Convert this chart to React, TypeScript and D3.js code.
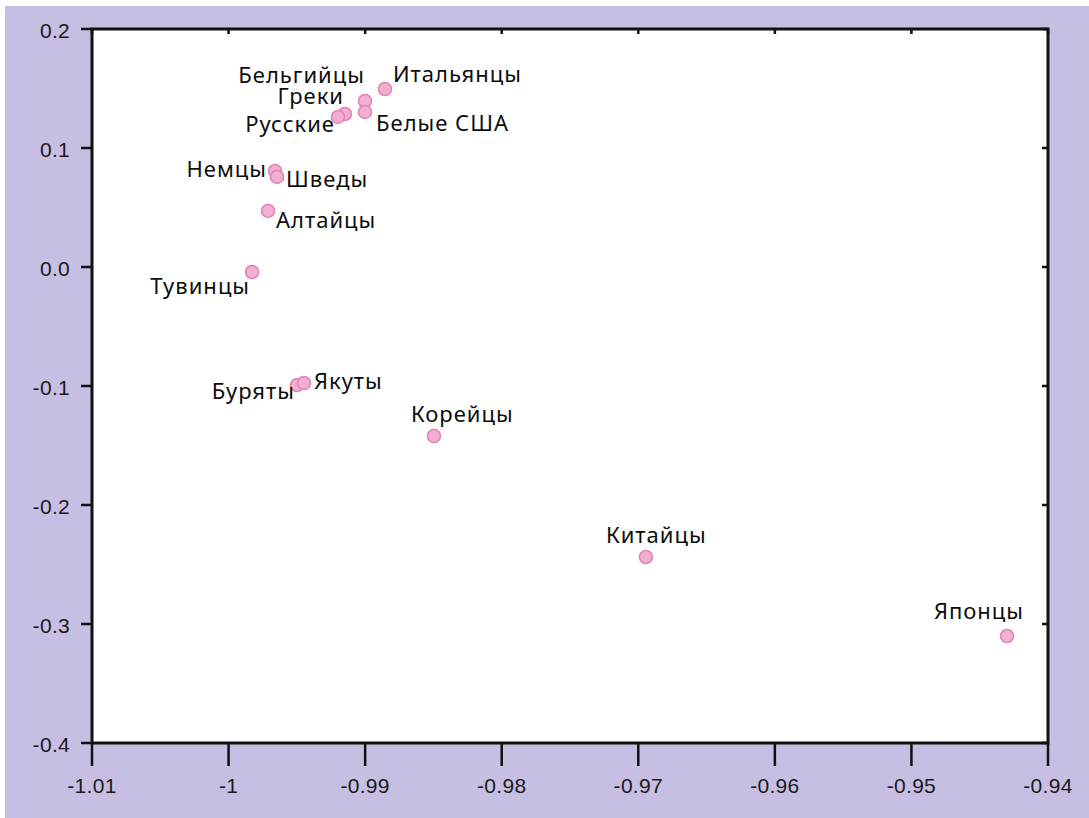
import React from "react";
import * as d3 from "d3";

const populations = ["Итальянцы", "Греки", "Белые США", "Бельгийцы", "Русские", "Немцы", "Шведы", "Алтайцы", "Тувинцы", "Буряты", "Якуты", "Корейцы", "Китайцы", "Японцы"];
const xValues = [-0.98855, -0.99001, -0.99001, -0.99148, -0.99199, -0.99660, -0.99645, -0.99711, -0.99828, -0.99499, -0.99448, -0.98496, -0.96944, -0.94300];
const yValues = [0.1496, 0.1395, 0.1303, 0.1286, 0.1261, 0.0807, 0.0757, 0.0471, -0.0042, -0.0992, -0.0975, -0.1420, -0.2437, -0.3101];
// label placement relative to each point: anchor, dx, dy
const labelAnchor = ["start", "end", "start", "end", "end", "end", "start", "start", "end", "end", "start", "start", "start", "end"];
const labelDx = [8, -21, 11, 20, -3, -8, 9, 8, -2, -2, 10, -23, -40, 17];
const labelDy = [-7, 3, 19, -31, 15, 6, 10, 17, 22, 14, 6, -14, -14, -17];

const xTicks = [-1.01, -1.0, -0.99, -0.98, -0.97, -0.96, -0.95, -0.94];
const xTickLabels = ["-1.01", "-1", "-0.99", "-0.98", "-0.97", "-0.96", "-0.95", "-0.94"];
const yTicks = [0.2, 0.1, 0.0, -0.1, -0.2, -0.3, -0.4];
const yTickLabels = ["0.2", "0.1", "0.0", "-0.1", "-0.2", "-0.3", "-0.4"];

const W = 1089;
const H = 818;
const left = 92, right = 1048, top = 29, bottom = 743;

export default function App() {
  const x = d3.scaleLinear().domain([-1.01, -0.94]).range([left, right]);
  const y = d3.scaleLinear().domain([-0.4, 0.2]).range([bottom, top]);
  const tickFont = "'Liberation Sans', Arial, sans-serif";
  const labelFont = "'Noto Sans', sans-serif";
  return (
    <svg width={W} height={H} style={{ position: "absolute", left: 0, top: 0 }}>
      <rect x={0} y={0} width={W} height={H} fill="#ffffff" />
      <rect x={5} y={6} width={W - 5} height={H - 6} fill="#c7bfe3" />
      <rect x={left} y={top} width={right - left} height={bottom - top} fill="#ffffff" />
      {xTicks.map((t, i) => (
        <g key={"xt" + i}>
          <line x1={x(t)} x2={x(t)} y1={bottom} y2={bottom + 23} stroke="#111" strokeWidth={2.5} />
          <line x1={x(t)} x2={x(t)} y1={top} y2={top + 5} stroke="#111" strokeWidth={2.5} />
          <text x={x(t)} y={785} textAnchor="middle" dominantBaseline="central" fontFamily={tickFont} fontSize={21} letterSpacing={0.3} fill="#1a1a1a">
            {xTickLabels[i]}
          </text>
        </g>
      ))}
      {yTicks.map((t, i) => (
        <g key={"yt" + i}>
          <line x1={left - 11} x2={left} y1={y(t)} y2={y(t)} stroke="#111" strokeWidth={2.5} />
          <line x1={right - 6} x2={right} y1={y(t)} y2={y(t)} stroke="#111" strokeWidth={2.5} />
          <text x={70} y={y(t) + 1} textAnchor="end" dominantBaseline="central" fontFamily={tickFont} fontSize={21} letterSpacing={0.3} fill="#1a1a1a">
            {yTickLabels[i]}
          </text>
        </g>
      ))}
      <rect x={left} y={top} width={right - left} height={bottom - top} fill="none" stroke="#111" strokeWidth={3} />
      {populations.map((p, i) => (
        <circle key={"c" + i} cx={x(xValues[i])} cy={y(yValues[i])} r={6.5} fill="#f3afd2" stroke="#e184b8" strokeWidth={1.6} />
      ))}
      {populations.map((p, i) => (
        <text
          key={"l" + i}
          x={x(xValues[i]) + labelDx[i]}
          y={y(yValues[i]) + labelDy[i]}
          textAnchor={labelAnchor[i] as any}
          fontFamily={labelFont}
          fontSize={22}
          letterSpacing={1}
          fill="#0d0d0d"
        >
          {p}
        </text>
      ))}
    </svg>
  );
}
